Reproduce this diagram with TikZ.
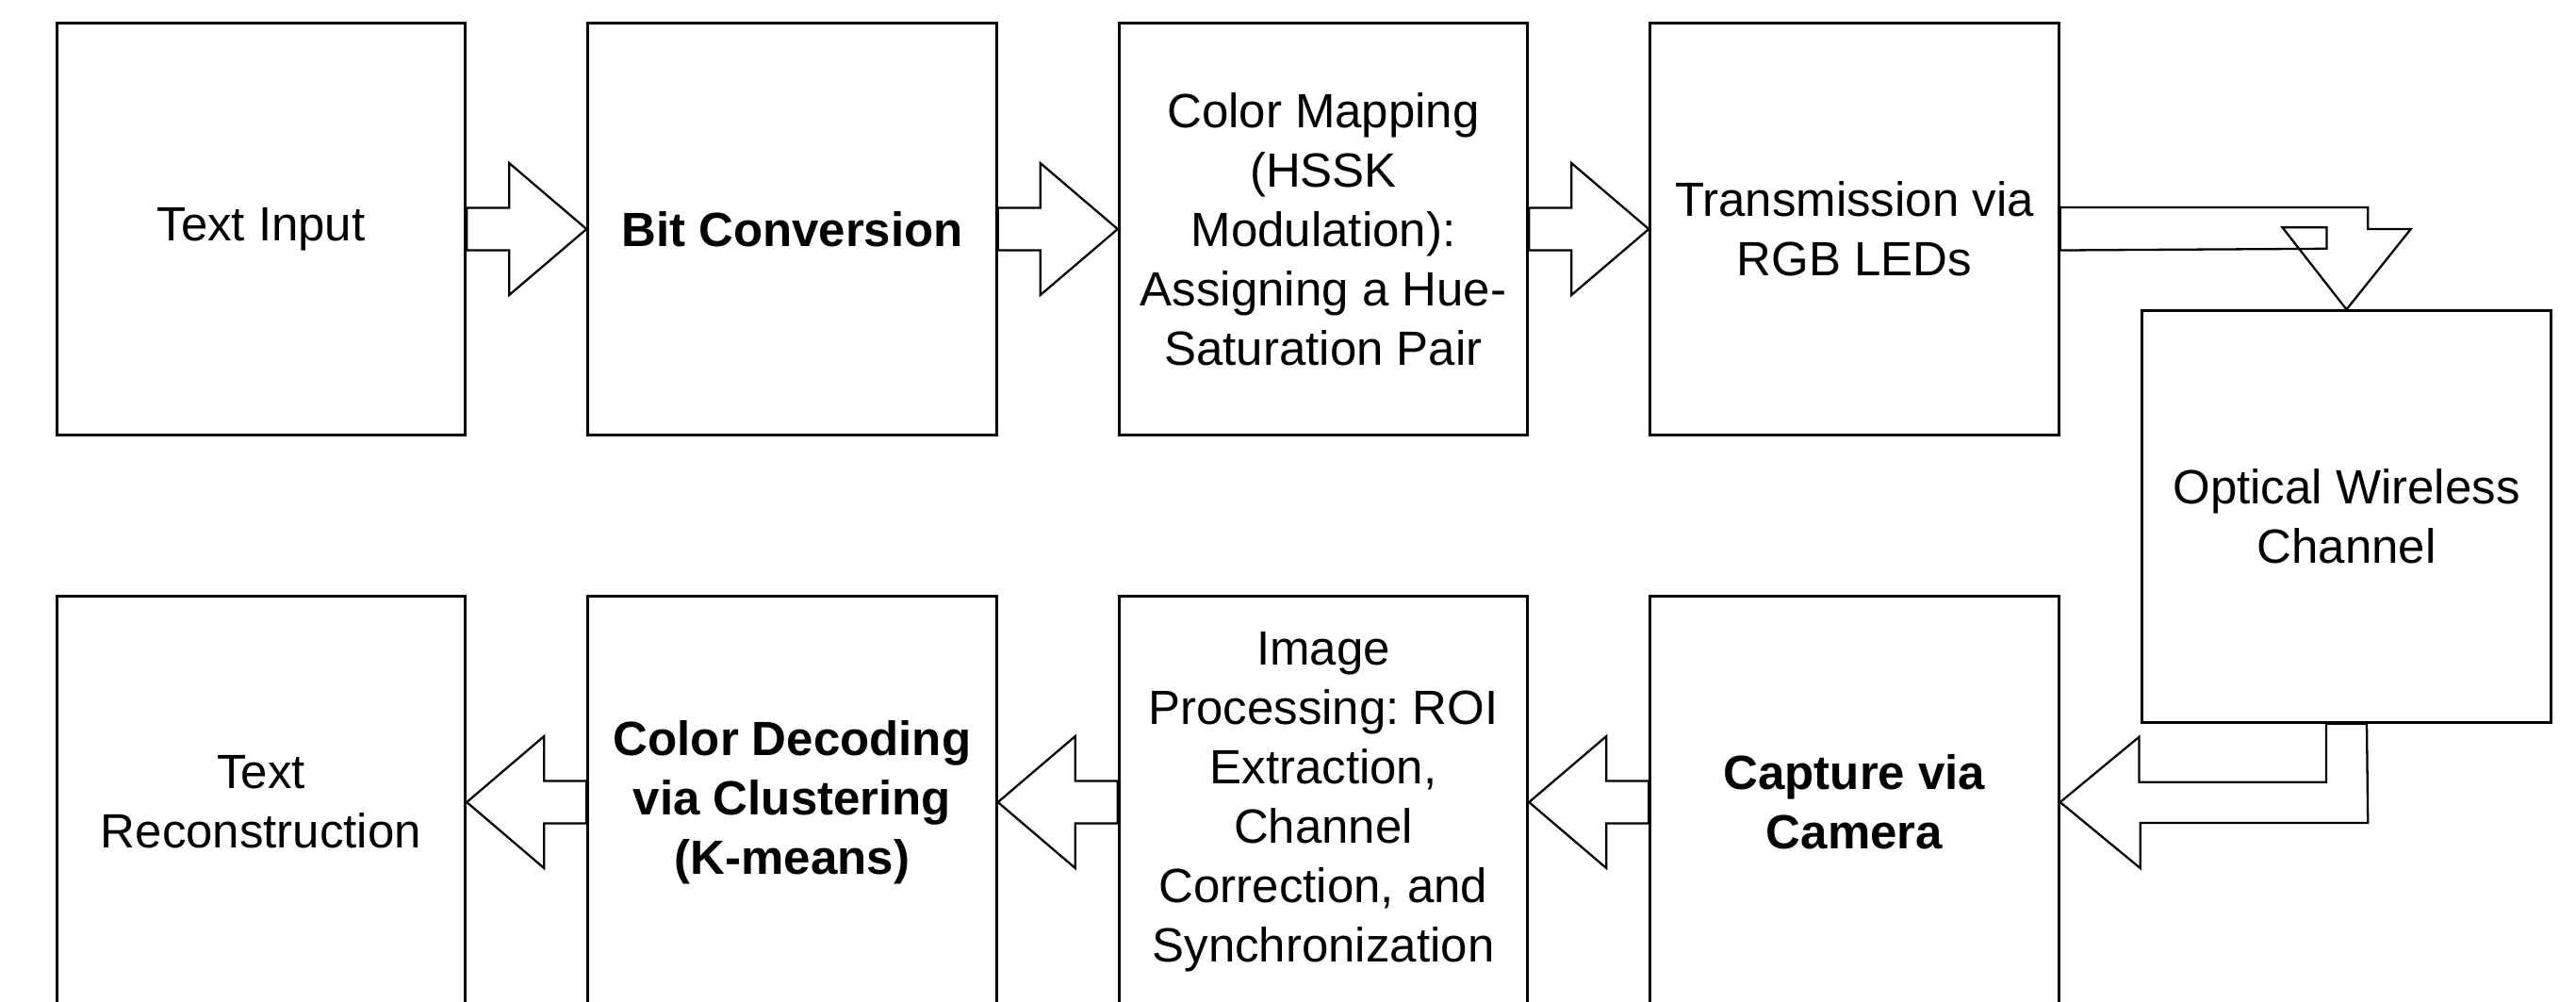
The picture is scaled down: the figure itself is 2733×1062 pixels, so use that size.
\documentclass[tikz,border=0pt]{standalone}
\usepackage{fontspec}
\setmainfont{Liberation Sans}
\usetikzlibrary{calc,backgrounds}
\frenchspacing
\begin{document}
\begin{tikzpicture}[x=0.01cm,y=-0.01cm,
  stagebox/.style={draw=black, line width=0.9pt, fill=white, minimum width=4.33cm, minimum height=4.36cm, align=center, inner sep=0pt, font=\fontsize{14.5pt}{17.9pt}\selectfont\frenchspacing},
  boldbox/.style={stagebox, font=\fontsize{14.5pt}{17.9pt}\selectfont\bfseries\frenchspacing},
  blockarrow/.style={draw=black, line width=0.65pt, fill=white, line join=miter}]
\useasboundingbox (0,0) rectangle (2733,1062);
\clip (0,0) rectangle (2733,1062);
% top row
\node[stagebox] (a) at (277,243) {Text Input};
\node[boldbox] (b) at (840.5,243) {Bit Conversion};
\node[stagebox] (c) at (1404,243) {Color Mapping\\(HSSK\\Modulation):\\Assigning a Hue-\\Saturation Pair};
\node[stagebox] (d) at (1967.5,243) {Transmission via\\RGB LEDs};
% channel
\node[stagebox] (o) at (2489.5,548) {Optical Wireless\\Channel};
% bottom row
\node[stagebox] (h) at (277,851) {Text\\Reconstruction};
\node[boldbox] (g) at (840.5,851) {Color Decoding\\via Clustering\\(K-means)};
\node[stagebox] (f) at (1404,851) {Image\\Processing: ROI\\Extraction,\\Channel\\Correction, and\\Synchronization};
\node[boldbox] (e) at (1967.5,851) {Capture via\\Camera};
\begin{pgfonlayer}{background}
% right-pointing block arrows
\foreach \s/\t in {a/b,b/c,c/d}{
  \draw[blockarrow] ($(\s.east)+(0,-22.5)$) -- ++(45,0) -- ++(0,-47.5) -- (\t.west)
    -- ($(\s.east)+(45,70)$) -- ++(0,-47.5) -- ($(\s.east)+(0,22.5)$) -- cycle;
}
% left-pointing block arrows
\foreach \s/\t in {e/f,f/g,g/h}{
  \draw[blockarrow] ($(\s.west)+(0,-22.5)$) -- ++(-45,0) -- ++(0,-47.5) -- (\t.east)
    -- ($(\s.west)+(-45,70)$) -- ++(0,-47.5) -- ($(\s.west)+(0,22.5)$) -- cycle;
}
% bent arrow: transmission -> channel
\draw[blockarrow] ($(d.east)+(0,-23)$) -- ++(326.5,0) -- ++(0,23) -- ++(45.5,0)
  -- (o.north) -- ($(o.north)+(-68,-87)$) -- ++(47,0) -- ++(0,22.5)
  -- ($(d.east)+(0,22.5)$) -- cycle;
% bent arrow: channel -> capture
\draw[blockarrow] ($(o.south)+(-21.5,0)$) -- ++(0,62) -- ++(-198.5,0) -- ++(0,-48)
  -- (e.east) -- ($(e.east)+(85,70)$) -- ++(0,-48) -- ++(241.5,0)
  -- ($(o.south)+(21.5,0)$) -- cycle;
\end{pgfonlayer}
\end{tikzpicture}
\end{document}
